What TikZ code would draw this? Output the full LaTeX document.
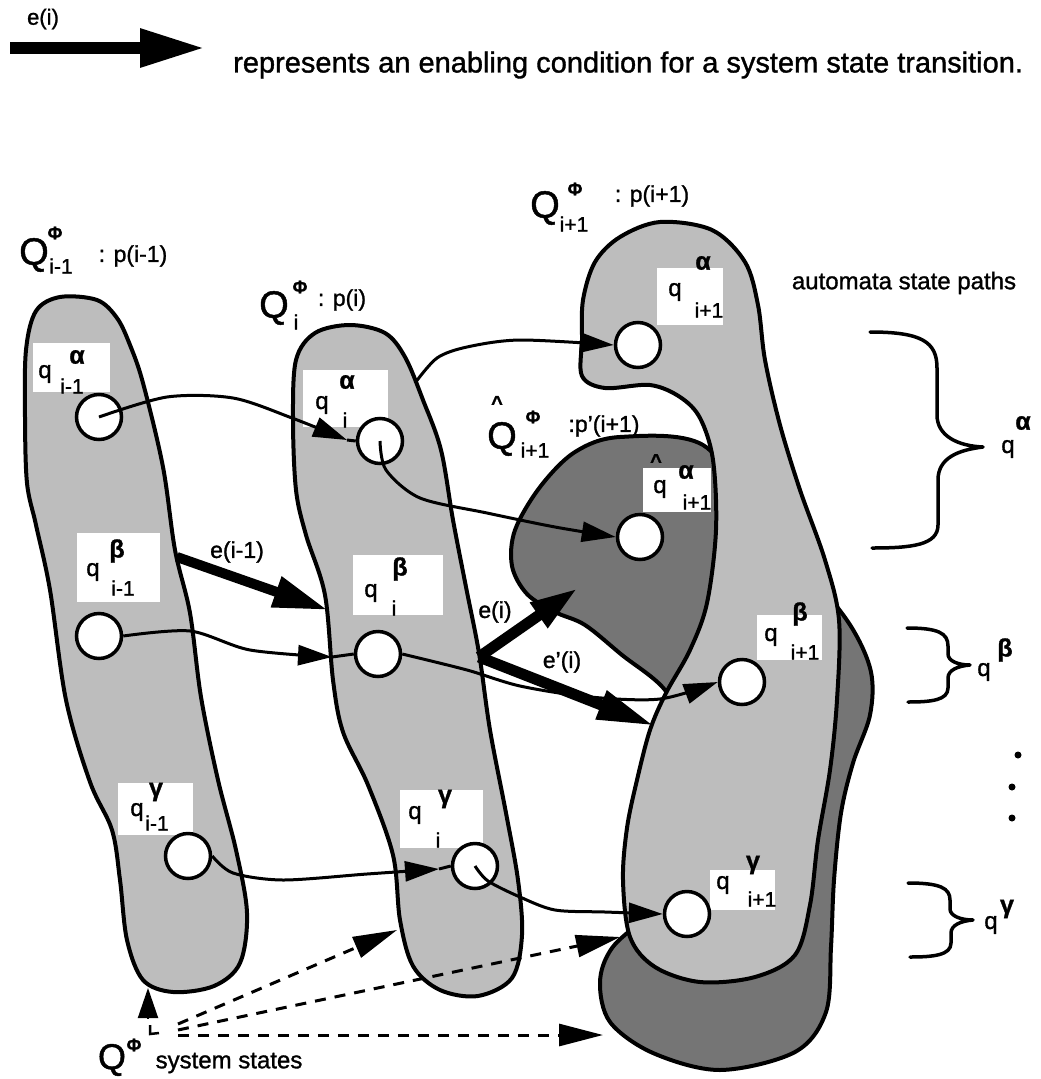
\documentclass[tikz,border=0pt]{standalone}
\usepackage{fontspec}
\setmainfont{Liberation Sans}[RawFeature={embolden=1.2}]
\usetikzlibrary{arrows.meta}
\definecolor{lightsh}{gray}{0.74}
\definecolor{darksh}{gray}{0.46}
\begin{document}
\begin{tikzpicture}[x=1pt,y=-1pt,
  blob/.style={line width=4pt, draw=black, line join=round},
  conn/.style={line width=3pt},
  tipa/.style={-{Triangle[length=34pt,width=20pt]}},
  state/.style={circle, draw, fill=white, line width=3.5pt, minimum size=45pt, inner sep=0pt},
  lbl/.style={font=\fontsize{23}{26}\selectfont, inner sep=0pt},
  qq/.style={font=\fontsize{24}{26}\selectfont, inner sep=0pt},
  sb/.style={font=\fontsize{21}{24}\selectfont, inner sep=0pt},
  gk/.style={font=\fontsize{25}{27}\selectfont\bfseries, inner sep=0pt},
  bigq/.style={font=\fontsize{38}{40}\selectfont, inner sep=0pt},
  phis/.style={font=\fontsize{18}{20}\selectfont\bfseries, inner sep=0pt},
  hat/.style={font=\fontsize{20}{22}\selectfont\bfseries, inner sep=0pt},
  dsh/.style={line width=3pt, dash pattern=on 11pt off 9pt, -{Triangle[length=44pt,width=22pt]}},
  brace/.style={line width=3.5pt, line cap=round, line join=round}
]
\useasboundingbox (0,0) rectangle (1041,1079);

% ---------- legend ----------
\coordinate (lgA) at (10,48);
\coordinate (lgB) at (205,48);
\draw[line width=12pt, -{Triangle[length=65pt,width=36pt]}] (lgA) -- (lgB);
\node[font=\fontsize{22}{24}\selectfont, inner sep=0pt] (lge) at (43,19) {e(i)};
\node[font=\fontsize{29}{32}\selectfont, anchor=west, inner sep=0pt] (lgt) at (233,65)
  {represents an enabling condition for a system state transition.};

% ---------- blobs ----------
% hat-Q (dark), behind Q_{i+1}
\draw[blob, fill=darksh] plot[smooth cycle, tension=0.55] coordinates {
 (620,437) (703,445) (760,520) (815,580) (852,628) (871,672) (870,715) (853,763)
 (841,813) (834,880) (831,947) (826,1012) (795,1052) (720,1070) (653,1053)
 (610,1022) (600,982) (612,948) (650,910) (690,840) (690,740) (665,690)
 (622,655) (585,625) (555,612) (527,594) (512,566) (515,530) (540,487) (575,452)};
% Q_{i+1} (light)
\draw[blob, fill=lightsh] plot[smooth cycle, tension=0.55] coordinates {
 (660,222) (712,230) (745,262) (758,305) (765,360) (780,425) (800,490) (825,560)
 (839,620) (837,700) (830,770) (818,840) (810,905) (795,955) (755,977) (700,982)
 (655,967) (630,937) (623,880) (627,828) (637,780) (650,730) (666,693) (690,650)
 (707,603) (716,530) (713,460) (700,418) (680,397) (650,385) (605,388) (582,376)
 (582,340) (583,300) (595,262) (620,237)};
% Q_i
\draw[blob, fill=lightsh] plot[smooth cycle, tension=0.55] coordinates {
 (350,325) (385,333) (405,357) (423,400) (441,450) (453,520) (466,587) (479,653)
 (490,730) (506,813) (518,880) (522,935) (512,978) (478,996) (440,990) (413,966)
 (400,920) (393,855) (368,785) (343,732) (333,680) (325,595) (306,535) (296,490)
 (293,420) (296,360) (315,333)};
% Q_{i-1}
\draw[blob, fill=lightsh] plot[smooth cycle, tension=0.55] coordinates {
 (60,297) (97,300) (117,318) (130,345) (143,383) (163,467) (175,550) (190,613)
 (201,697) (218,780) (236,850) (247,913) (240,963) (214,986) (173,992) (143,980)
 (127,940) (120,880) (112,830) (90,782) (66,700) (50,590) (36,525) (27,483)
 (25,417) (26,350) (36,311)};

% ---------- white label boxes ----------
\fill[white] (33,343) rectangle (110,392);
\fill[white] (303,370) rectangle (388,427);
\fill[white] (77,533) rectangle (160,602);
\fill[white] (353,555) rectangle (443,615);
\fill[white] (118,783) rectangle (193,835);
\fill[white] (400,790) rectangle (483,848);
\fill[white] (657,268) rectangle (723,325);
\fill[white] (643,468) rectangle (711,512);
\fill[white] (757,615) rectangle (822,660);
\fill[white] (710,870) rectangle (775,910);

% ---------- states ----------
\node[state] (a1) at (99,417) {};
\node[state] (a2) at (380,441) {};
\node[state] (a3) at (638,345) {};
\node[state] (ah) at (640,537) {};
\node[state] (b1) at (99,636) {};
\node[state] (b2) at (378,654) {};
\node[state] (b3) at (742,682) {};
\node[state] (g1) at (188,856) {};
\node[state] (g2) at (475,866) {};
\node[state] (g3) at (687,914) {};

% ---------- state connectors ----------
\coordinate (ta1) at (347,440);
\draw[conn,tipa] plot[smooth] coordinates {(a1.center) (167,397) (233,398) (292,418) (ta1)};
\draw[conn] (ta1) -- (a2.west);
\draw[conn,tipa] plot[smooth] coordinates {(a2.center) (386,470) (420,498) (487,513) (555,527) (ah.west)};
\coordinate (qio) at (415,383);
\draw[conn,tipa] plot[smooth] coordinates {(qio) (437,358) (467,347) (520,340) (a3.west)};
\coordinate (tb1) at (332,657);
\draw[conn,tipa] plot[smooth] coordinates {(b1.east) (190,631) (250,650) (tb1)};
\draw[conn] (tb1) -- (b2.west);
\draw[conn,tipa] plot[smooth] coordinates {(b2.east) (467,670) (520,686) (590,697) (660,699) (b3.west)};
\coordinate (tg1) at (439,869);
\draw[conn,tipa] plot[smooth] coordinates {(g1.east) (233,873) (283,880) (367,874) (tg1)};
\draw[conn] (tg1) -- (g2.west);
\draw[conn,tipa] plot[smooth] coordinates {(g2.center) (488,881) (520,897) (555,910) (605,912) (g3.west)};

% ---------- enabling condition arrows ----------
\coordinate (e1s) at (177,557);
\coordinate (e1t) at (328,610);
\draw[line width=10pt, -{Triangle[length=55pt,width=30pt]}] (e1s) -- (e1t);
\coordinate (e2s) at (479,657);
\coordinate (e2t) at (578,588);
\coordinate (e3t) at (655,726);
\draw[line width=11pt, -{Triangle[length=48pt,width=28pt]}] (e2s) -- (e2t);
\draw[line width=11pt, -{Triangle[length=58pt,width=28pt]}] (e2s) -- (e3t);
\node[lbl] (le1) at (237,552) {e(i-1)};
\node[lbl] (le2) at (495,612) {e(i)};
\node[lbl] (le3) at (562,662) {e'(i)};

% ---------- system states arrows ----------
\coordinate (qsa) at (148,1018);
\coordinate (qsu) at (148,988);
\draw[line width=2pt, -{Triangle[length=30pt,width=20pt]}] (qsa) -- (qsu);
\draw[line width=2.5pt] (150,1025) -- (150,1034) -- (159,1033);
\coordinate (d1s) at (178,1024);
\coordinate (d1t) at (397,930);
\coordinate (d2s) at (178,1030);
\coordinate (d2t) at (620,937);
\coordinate (d3s) at (178,1035);
\coordinate (d3t) at (603,1035);
\draw[dsh] (d1s) -- (d1t);
\draw[dsh] (d2s) -- (d2t);
\draw[dsh] (d3s) -- (d3t);

% ---------- set labels ----------
\node[bigq] (QA) at (34,255) {Q};
\node[phis] (QAp) at (55,233) {Φ};
\node[sb] (QAs) at (61,266) {i-1};
\node[lbl] (QAl) at (133,256) {: p(i-1)};

\node[bigq] (QB) at (274,308) {Q};
\node[phis] (QBp) at (300,287) {Φ};
\node[sb] (QBs) at (296,322) {i};
\node[lbl] (QBl) at (342,300) {: p(i)};

\node[bigq] (QC) at (545,208) {Q};
\node[phis] (QCp) at (575,189) {Φ};
\node[sb] (QCs) at (574,224) {i+1};
\node[lbl] (QCl) at (652,196) {: p(i+1)};

\node[bigq] (QD) at (502,439) {Q};
\node[hat] (QDh) at (497,403) {\textasciicircum};
\node[phis] (QDp) at (533,417) {Φ};
\node[sb] (QDs) at (535,450) {i+1};
\node[lbl] (QDl) at (604,426) {:p'(i+1)};

\node[font=\fontsize{36}{38}\selectfont, inner sep=0pt] (QS) at (112,1060) {Q};
\node[phis] (QSp) at (134,1045) {Φ};
\node[font=\fontsize{24}{26}\selectfont, inner sep=0pt] (QSl) at (229,1063) {system states};

\node[font=\fontsize{24}{26}\selectfont, inner sep=0pt] (asp) at (904,283) {automata state paths};

% ---------- state labels ----------
\node[qq] (l1q) at (45,374) {q};  \node[gk] (l1s) at (77,357) {α}; \node[sb] (l1b) at (72,386) {i-1};
\node[qq] (l2q) at (322,405) {q}; \node[gk] (l2s) at (347,382) {α}; \node[sb] (l2b) at (345,420) {i};
\node[qq] (l3q) at (675,292) {q}; \node[gk] (l3s) at (703,263) {α}; \node[sb] (l3b) at (709,310) {i+1};
\node[qq] (l4q) at (660,489) {q}; \node[gk] (l4s) at (686,472) {α}; \node[sb] (l4b) at (697,502) {i+1};
\node[hat] (l4h) at (656,461) {\textasciicircum};
\node[qq] (m1q) at (93,572) {q};  \node[gk] (m1s) at (117,551) {β}; \node[sb] (m1b) at (123,588) {i-1};
\node[qq] (m2q) at (371,593) {q}; \node[gk] (m2s) at (400,569) {β}; \node[sb] (m2b) at (394,608) {i};
\node[qq] (m3q) at (771,637) {q}; \node[gk] (m3s) at (800,614) {β}; \node[sb] (m3b) at (805,652) {i+1};
\node[qq] (n1q) at (137,812) {q}; \node[gk] (n1s) at (156,792) {γ}; \node[sb] (n1b) at (157,823) {i-1};
\node[qq] (n2q) at (415,815) {q}; \node[gk] (n2s) at (445,799) {γ}; \node[sb] (n2b) at (438,840) {i};
\node[qq] (n3q) at (723,885) {q}; \node[gk] (n3s) at (753,865) {γ}; \node[sb] (n3b) at (762,899) {i+1};

% ---------- braces ----------
\coordinate (bra) at (870,332); \coordinate (brat) at (983,447); \coordinate (brab) at (872,548);
\draw[brace] (bra) .. controls (922,332) and (937,342) .. (937,368) -- (937,415)
  .. controls (937,436) and (958,446) .. (brat)
  .. controls (958,450) and (938,458) .. (938,480) -- (938,525)
  .. controls (938,545) and (912,548) .. (brab);
\node[qq] (bqa) at (1008,449) {q}; \node[gk] (bqas) at (1023,423) {α};

\coordinate (brb) at (907,628); \coordinate (brbt) at (970,665); \coordinate (brbb) at (908,702);
\draw[brace] (brb) .. controls (938,628) and (948,633) .. (948,646) -- (948,654)
  .. controls (948,661) and (958,665) .. (brbt)
  .. controls (958,666) and (948,670) .. (948,678) -- (948,688)
  .. controls (948,700) and (932,702) .. (brbb);
\node[qq] (bqb) at (984,672) {q}; \node[gk] (bqbs) at (1005,650) {β};

\coordinate (brc) at (908,883); \coordinate (brct) at (973,920); \coordinate (brcb) at (910,957);
\draw[brace] (brc) .. controls (940,883) and (950,888) .. (950,900) -- (950,909)
  .. controls (950,916) and (961,920) .. (brct)
  .. controls (961,921) and (951,925) .. (951,933) -- (951,943)
  .. controls (951,955) and (934,957) .. (brcb);
\node[qq] (bqc) at (991,925) {q}; \node[gk] (bqcs) at (1007,909) {γ};

% ---------- dots ----------
\fill (1018,755) circle (3.5pt);
\fill (1012,787) circle (3.5pt);
\fill (1012,818) circle (3.5pt);
\end{tikzpicture}
\end{document}
